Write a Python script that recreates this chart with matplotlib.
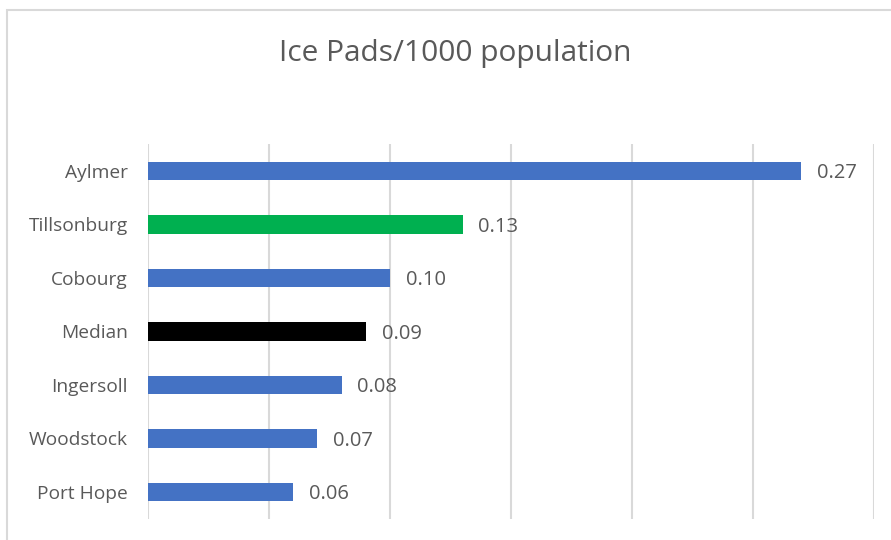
import matplotlib.pyplot as plt
from matplotlib.patches import Rectangle

# ice pads per 1000 residents, top to bottom as shown
towns = ['Aylmer', 'Tillsonburg', 'Cobourg', 'Median', 'Ingersoll', 'Woodstock', 'Port Hope']
pads_per_1000 = [0.27, 0.13, 0.10, 0.09, 0.08, 0.07, 0.06]
bar_colors = ['#4472C4', '#00B050', '#4472C4', '#000000', '#4472C4', '#4472C4', '#4472C4']
grid_ticks = [0.0, 0.05, 0.10, 0.15, 0.20, 0.25, 0.30]

TEXT_GREY = '#595959'
GRID_GREY = '#D9D9D9'

plt.rcParams['font.family'] = ['Open Sans', 'DejaVu Sans']

fig = plt.figure(figsize=(8.91, 5.40), dpi=100)
ax = fig.add_axes([0.1661, 0.0394, 0.8149, 0.6936])

# chart area outline (only top and left edges fall inside the image)
fig.patches.append(Rectangle((7 / 891, -0.1), 1.2, 530 / 540 + 0.1,
                             transform=fig.transFigure, fill=False,
                             edgecolor=GRID_GREY, linewidth=1.5))

ypos = list(range(len(towns)))
ax.barh(ypos, pads_per_1000, height=0.34, color=bar_colors, zorder=3)

for y, v in zip(ypos, pads_per_1000):
    ax.text(v + 0.0065, y, f'{v:.2f}', va='center_baseline', ha='left',
            fontsize=14.5, color=TEXT_GREY)

ax.set_yticks(ypos)
ax.set_yticklabels(towns, fontsize=13.8, color=TEXT_GREY, va='center_baseline')
ax.set_ylim(len(towns) - 0.5, -0.5)
ax.tick_params(axis='y', length=0, pad=14.5)

ax.set_xlim(0, 0.30)
ax.set_xticks(grid_ticks)
ax.tick_params(axis='x', length=0, labelbottom=False)
ax.grid(axis='x', color=GRID_GREY, linewidth=1.5, zorder=0)

for side in ['top', 'right', 'bottom', 'left']:
    ax.spines[side].set_visible(False)

fig.text(0.511, 0.9, 'Ice Pads/1000 population', ha='center', va='center',
         fontsize=21.5, color=TEXT_GREY)

fig.savefig('out.png', dpi=100)
